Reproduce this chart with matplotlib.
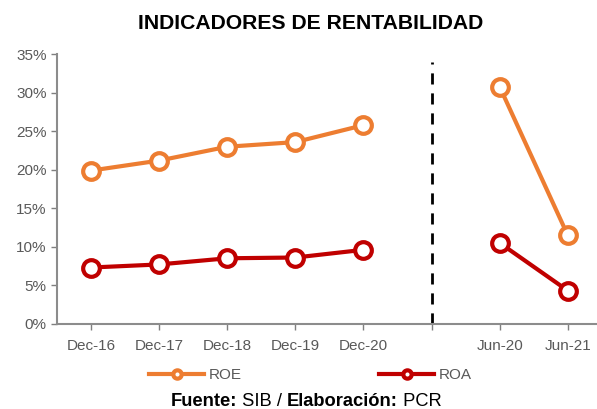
import numpy as np
import matplotlib.pyplot as plt
from matplotlib.lines import Line2D
from matplotlib.offsetbox import TextArea, HPacker, AnnotationBbox

plt.rcParams['font.family'] = ['Liberation Sans', 'DejaVu Sans']

labels = ['Dec-16', 'Dec-17', 'Dec-18', 'Dec-19', 'Dec-20', '', 'Jun-20', 'Jun-21']
roe = [19.9, 21.2, 23.0, 23.6, 25.8, np.nan, 30.8, 11.5]
roa = [7.3, 7.7, 8.5, 8.6, 9.6, np.nan, 10.5, 4.3]
divider = 5
divider_top = 34.0

orange = '#ED7D31'
red = '#C00000'
grey = '#595959'

fig = plt.figure(figsize=(5.97, 4.09), dpi=100)
ax = fig.add_axes([0.0955, 0.2086, 0.9045, 0.6584])

x = np.arange(len(labels))
for vals, col in [(roe, orange), (roa, red)]:
    ax.plot(x, vals, color=col, lw=3, marker='o', ms=12, mfc='white',
            mec=col, mew=3, solid_capstyle='round', zorder=3)

ax.vlines(divider, 0, divider_top, colors='black', linestyles=(0, (4, 3.2)), lw=2)

ax.set_xlim(-0.5, 7.43)
ax.set_ylim(0, 35)
ax.set_yticks(np.arange(0, 36, 5))
ax.set_yticklabels([f'{v}%' for v in range(0, 36, 5)])
ax.set_xticks(x)
ax.set_xticklabels(labels)
ax.tick_params(colors='#7f7f7f', labelcolor=grey, labelsize=11, length=4, width=1)
ax.tick_params(axis='x', pad=7)
for s in ['top', 'right']:
    ax.spines[s].set_visible(False)
for s in ['left', 'bottom']:
    ax.spines[s].set_color('#8c8c8c')
    ax.spines[s].set_linewidth(1.5)

fig.text(0.52, 0.9425, 'INDICADORES DE RENTABILIDAD', ha='center', va='center',
         fontsize=15.2, fontweight='bold')

handles = [Line2D([], [], color=orange, lw=3, marker='o', ms=6, mfc='white', mec=orange, mew=3),
           Line2D([], [], color=red, lw=3, marker='o', ms=6, mfc='white', mec=red, mew=3)]
fig.legend(handles, ['ROE', 'ROA'], loc='center', bbox_to_anchor=(0.52, 0.083),
           ncol=2, frameon=False, fontsize=11, handlelength=3.6, handletextpad=0.3,
           columnspacing=9, labelcolor=grey)

parts = [('Fuente:', 'bold'), (' SIB / ', 'normal'), ('Elaboración:', 'bold'), (' PCR', 'normal')]
box = HPacker(children=[TextArea(t, textprops=dict(fontsize=13.2, fontweight=w, color='black'))
                        for t, w in parts], align='baseline', pad=0, sep=0)
fig.add_artist(AnnotationBbox(box, (0.513, 0.018), xycoords='figure fraction', frameon=False))

fig.savefig('out.png', dpi=100)
